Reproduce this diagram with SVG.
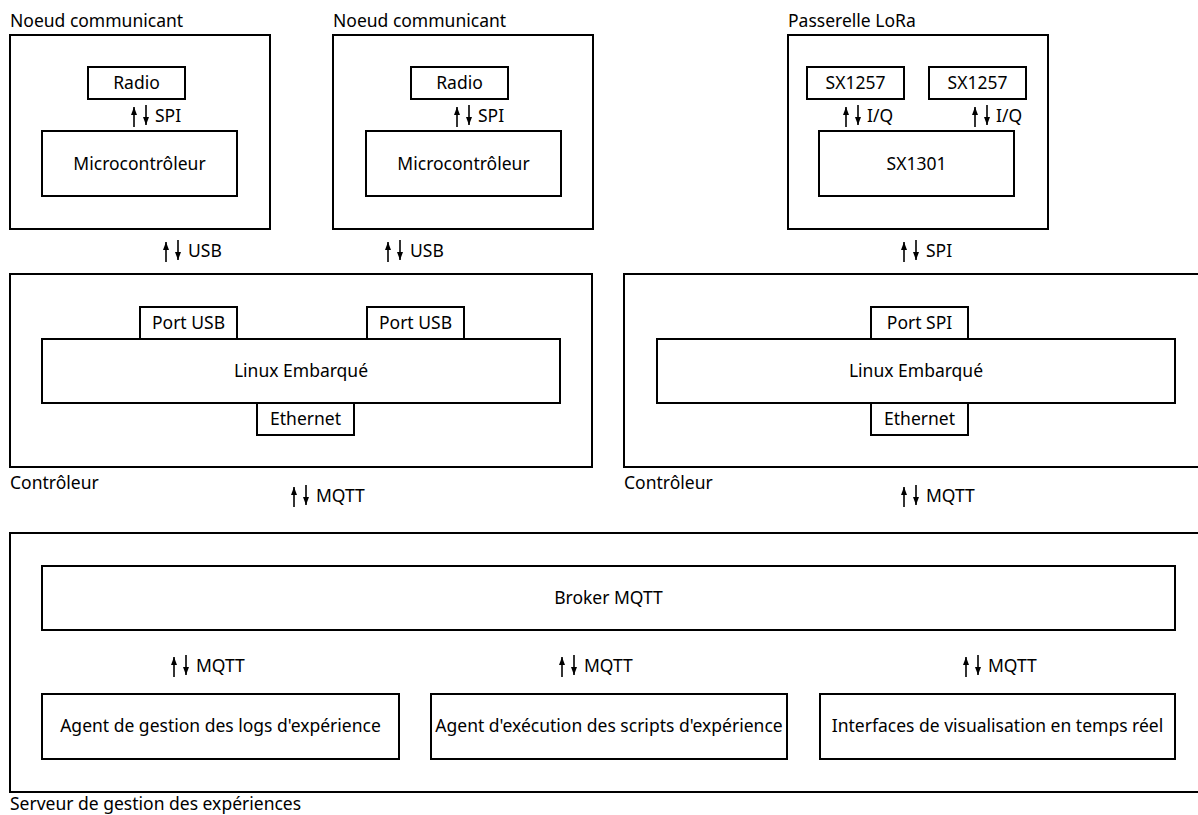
<svg xmlns="http://www.w3.org/2000/svg" width="1198" height="815" viewBox="0 0 1198 815">
<style>
.b{fill:#fff;stroke:#000;stroke-width:2}
.t{font-family:"Noto Sans","Open Sans",sans-serif;font-size:17.5px;fill:#000}
.c{text-anchor:middle}
.a{stroke:#000;stroke-width:1.6;fill:none}
</style>
<defs>
<marker id="ah" viewBox="0 0 6 8" refX="3" refY="0" markerWidth="6" markerHeight="8" markerUnits="userSpaceOnUse" orient="0">
<path d="M0,8 L3,0 L6,8 Z" fill="#000"/>
</marker>
<marker id="ae" viewBox="0 0 6 8" refX="3" refY="8" markerWidth="6" markerHeight="8" markerUnits="userSpaceOnUse" orient="0">
<path d="M0,0 L3,8 L6,0 Z" fill="#000"/>
</marker>
</defs>
<rect width="1198" height="815" fill="#fff"/>

<g id="noeud1">
<text class="t" x="10" y="27">Noeud communicant</text>
<rect class="b" x="10" y="35" width="260" height="194"/>
<rect class="b" x="88" y="67" width="97" height="32"/>
<text class="t c" x="136.5" y="89">Radio</text>
<rect class="b" x="42" y="131" width="195" height="65"/>
<text class="t c" x="139.5" y="170">Microcontrôleur</text>
</g>

<g id="noeud2">
<text class="t" x="333" y="27">Noeud communicant</text>
<rect class="b" x="333" y="35" width="260" height="194"/>
<rect class="b" x="411" y="67" width="97" height="32"/>
<text class="t c" x="459.5" y="89">Radio</text>
<rect class="b" x="366" y="131" width="195" height="65"/>
<text class="t c" x="463.5" y="170">Microcontrôleur</text>
</g>

<g id="passerelle">
<text class="t" x="788" y="27">Passerelle LoRa</text>
<rect class="b" x="788" y="35" width="260" height="194"/>
<rect class="b" x="807" y="67" width="97" height="32"/>
<text class="t c" x="855.5" y="89">SX1257</text>
<rect class="b" x="929" y="67" width="97" height="32"/>
<text class="t c" x="977.5" y="89">SX1257</text>
<rect class="b" x="819" y="131" width="195" height="65"/>
<text class="t c" x="916.5" y="170">SX1301</text>
</g>

<g id="controleur1">
<rect class="b" x="10" y="274" width="582" height="193"/>
<text class="t" x="10" y="489">Contrôleur</text>
<rect class="b" x="42" y="339" width="518" height="64"/>
<text class="t c" x="301" y="377">Linux Embarqué</text>
<rect class="b" x="140" y="307" width="97" height="32"/>
<text class="t c" x="188.5" y="329">Port USB</text>
<rect class="b" x="367" y="307" width="97" height="32"/>
<text class="t c" x="415.5" y="329">Port USB</text>
<rect class="b" x="257" y="403" width="97" height="32"/>
<text class="t c" x="305.5" y="425">Ethernet</text>
</g>

<g id="controleur2">
<rect class="b" x="624" y="274" width="590" height="193"/>
<text class="t" x="624" y="489">Contrôleur</text>
<rect class="b" x="657" y="339" width="518" height="64"/>
<text class="t c" x="916" y="377">Linux Embarqué</text>
<rect class="b" x="871" y="307" width="97" height="32"/>
<text class="t c" x="919.5" y="329">Port SPI</text>
<rect class="b" x="871" y="403" width="97" height="32"/>
<text class="t c" x="919.5" y="425">Ethernet</text>
</g>

<g id="serveur">
<rect class="b" x="10" y="533" width="1200" height="259"/>
<text class="t" x="10" y="810">Serveur de gestion des expériences</text>
<rect class="b" x="42" y="566" width="1133" height="64"/>
<text class="t c" x="608.5" y="604">Broker MQTT</text>
<rect class="b" x="42" y="694" width="357" height="65"/>
<text class="t c" x="220.5" y="732">Agent de gestion des logs d'expérience</text>
<rect class="b" x="431" y="694" width="356" height="65"/>
<text class="t c" x="609" y="732">Agent d'exécution des scripts d'expérience</text>
<rect class="b" x="820" y="694" width="355" height="65"/>
<text class="t c" x="997.5" y="732">Interfaces de visualisation en temps réel</text>
</g>

<g id="connecteurs">
<path class="a" d="M134,127 V107" marker-end="url(#ah)"/><path class="a" d="M146,105 V125" marker-end="url(#ae)"/>
<text class="t" x="155" y="122">SPI</text>
<path class="a" d="M457,127 V107" marker-end="url(#ah)"/><path class="a" d="M469,105 V125" marker-end="url(#ae)"/>
<text class="t" x="478" y="122">SPI</text>
<path class="a" d="M846,127 V107" marker-end="url(#ah)"/><path class="a" d="M858,105 V125" marker-end="url(#ae)"/>
<text class="t" x="867" y="122">I/Q</text>
<path class="a" d="M975,127 V107" marker-end="url(#ah)"/><path class="a" d="M987,105 V125" marker-end="url(#ae)"/>
<text class="t" x="996" y="122">I/Q</text>

<path class="a" d="M166,262 V242" marker-end="url(#ah)"/><path class="a" d="M178,240 V260" marker-end="url(#ae)"/>
<text class="t" x="188" y="257">USB</text>
<path class="a" d="M388,262 V242" marker-end="url(#ah)"/><path class="a" d="M400,240 V260" marker-end="url(#ae)"/>
<text class="t" x="410" y="257">USB</text>
<path class="a" d="M904,262 V242" marker-end="url(#ah)"/><path class="a" d="M916,240 V260" marker-end="url(#ae)"/>
<text class="t" x="926" y="257">SPI</text>

<path class="a" d="M294,507 V487" marker-end="url(#ah)"/><path class="a" d="M306,485 V505" marker-end="url(#ae)"/>
<text class="t" x="316" y="502">MQTT</text>
<path class="a" d="M904,507 V487" marker-end="url(#ah)"/><path class="a" d="M916,485 V505" marker-end="url(#ae)"/>
<text class="t" x="926" y="502">MQTT</text>

<path class="a" d="M174,677 V657" marker-end="url(#ah)"/><path class="a" d="M186,655 V675" marker-end="url(#ae)"/>
<text class="t" x="196" y="672">MQTT</text>
<path class="a" d="M562,677 V657" marker-end="url(#ah)"/><path class="a" d="M574,655 V675" marker-end="url(#ae)"/>
<text class="t" x="584" y="672">MQTT</text>
<path class="a" d="M966,677 V657" marker-end="url(#ah)"/><path class="a" d="M978,655 V675" marker-end="url(#ae)"/>
<text class="t" x="988" y="672">MQTT</text>
</g>
</svg>
